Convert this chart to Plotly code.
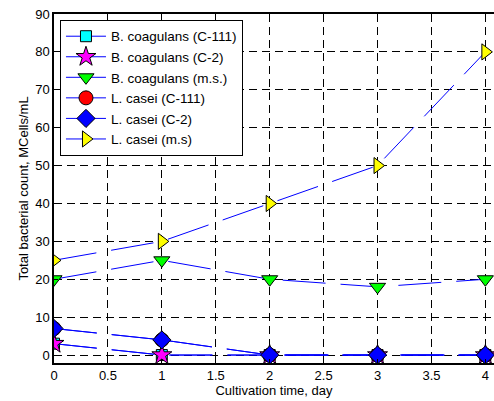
import plotly.graph_objects as go

days = [0, 1, 2, 3, 4]
names = ["B. coagulans (C-111)", "B. coagulans (C-2)", "B. coagulans (m.s.)",
         "L. casei (C-111)", "L. casei (C-2)", "L. casei (m.s)"]
bc_c111 = [3, 0, 0, 0, 0]
bc_c2 = [3, 0, 0, 0, 0]
bc_ms = [20, 25, 20, 18, 20]
lc_c111 = [7, 4, 0, 0, 0]
lc_c2 = [7, 4, 0, 0, 0]
lc_ms = [25, 30, 40, 50, 80]
series = [bc_c111, bc_c2, bc_ms, lc_c111, lc_c2, lc_ms]
symbols = ["square", "star", "triangle-down", "circle", "diamond", "triangle-right"]
colors = ["#00ffff", "#ff00ff", "#00ff00", "#ff0000", "#0000ff", "#ffff00"]
sizes = [11, 15, 14, 14, 14, 14]
xticks = [0, 0.5, 1, 1.5, 2, 2.5, 3, 3.5, 4]
yticks = [0, 10, 20, 30, 40, 50, 60, 70, 80, 90]

fig = go.Figure()
for nm, ys, sym, col, sz in zip(names, series, symbols, colors, sizes):
    fig.add_trace(go.Scatter(
        x=days, y=ys, name=nm, mode="lines+markers",
        line=dict(color="#0000ff", width=1, dash="43px,15px"),
        marker=dict(symbol=sym, color=col, size=sz, line=dict(color="black", width=1)),
    ))

fig.update_layout(
    width=494, height=401,
    margin=dict(l=54, r=0, t=14, b=38, autoexpand=False),
    paper_bgcolor="white", plot_bgcolor="white",
    font=dict(family="Liberation Sans, Arial", size=13, color="black"),
    legend=dict(x=0.0136, y=0.983, xanchor="left", yanchor="top",
                bordercolor="black", borderwidth=1, bgcolor="white",
                font=dict(size=13.5), tracegroupgap=0, itemwidth=40),
    xaxis=dict(range=[0, 4.08], tickvals=xticks, ticktext=[str(v) for v in xticks],
               showgrid=True, gridcolor="black", griddash="8px,5px", gridwidth=1,
               showline=True, linecolor="black", linewidth=1.5, mirror=True,
               ticks="inside", ticklen=4, tickcolor="black", zeroline=False,
               automargin=False,
               title=dict(text="Cultivation time, day", font=dict(size=13), standoff=2)),
    yaxis=dict(range=[-2.1, 90], tickvals=yticks, ticktext=[str(v) for v in yticks],
               showgrid=True, gridcolor="black", griddash="8px,5px", gridwidth=1,
               showline=True, linecolor="black", linewidth=1.5, mirror=False,
               ticks="inside", ticklen=4, tickcolor="black", zeroline=False,
               automargin=False,
               title=dict(text="Total bacterial count, MCells/mL", font=dict(size=13), standoff=4)),
)
fig.write_html("out.html", config={"displayModeBar": False},
               post_script="document.body.style.margin='0px';")
